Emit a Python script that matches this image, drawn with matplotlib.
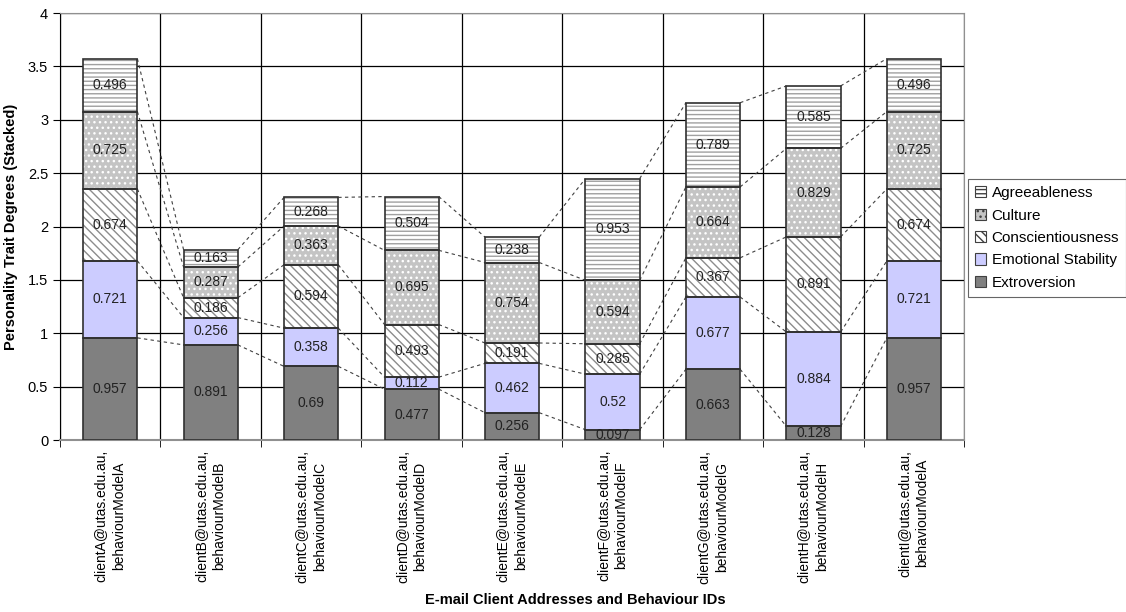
import matplotlib.pyplot as plt
import numpy as np

plt.rcParams['font.family'] = ['Liberation Sans', 'DejaVu Sans']
plt.rcParams['hatch.linewidth'] = 1.0

clients = ['clientA@utas.edu.au,\nbehaviourModelA', 'clientB@utas.edu.au,\nbehaviourModelB',
           'clientC@utas.edu.au,\nbehaviourModelC', 'clientD@utas.edu.au,\nbehaviourModelD',
           'clientE@utas.edu.au,\nbehaviourModelE', 'clientF@utas.edu.au,\nbehaviourModelF',
           'clientG@utas.edu.au,\nbehaviourModelG', 'clientH@utas.edu.au,\nbehaviourModelH',
           'clientI@utas.edu.au,\nbehaviourModelA']

extroversion = [0.957, 0.891, 0.69, 0.477, 0.256, 0.097, 0.663, 0.128, 0.957]
emotional = [0.721, 0.256, 0.358, 0.112, 0.462, 0.52, 0.677, 0.884, 0.721]
conscientious = [0.674, 0.186, 0.594, 0.493, 0.191, 0.285, 0.367, 0.891, 0.674]
culture = [0.725, 0.287, 0.363, 0.695, 0.754, 0.594, 0.664, 0.829, 0.725]
agreeable = [0.496, 0.163, 0.268, 0.504, 0.238, 0.953, 0.789, 0.585, 0.496]

series = [
    ('Extroversion', extroversion, '#808080', None, '#808080'),
    ('Emotional Stability', emotional, '#ccccff', None, '#ccccff'),
    ('Conscientiousness', conscientious, 'white', '\\\\\\\\', '#8c8c8c'),
    ('Culture', culture, '#c4c4c4', '...', 'white'),
    ('Agreeableness', agreeable, 'white', '----', '#a0a0a0'),
]

fig = plt.figure(figsize=(11.26, 6.12), dpi=100)
ax = fig.add_axes([0.0533, 0.281, 0.803, 0.6977])

x = np.arange(len(clients))
w = 0.54
bottom = np.zeros(len(clients))
handles = []
tops = []
for name, vals, face, hatch, hcol in series:
    vals = np.array(vals)
    # fill + hatch, then a separate outline so the hatch colour can differ from the edge
    ax.bar(x, vals, w, bottom=bottom, color=face, hatch=hatch, edgecolor=hcol,
           linewidth=0, zorder=3)
    ax.bar(x, vals, w, bottom=bottom, fill=False, edgecolor='#303030',
           linewidth=1.2, zorder=4)
    for xi, b, v in zip(x, bottom, vals):
        ax.text(xi, b + v / 2, f'{v:g}', ha='center', va='center', fontsize=10,
                color='#222222', zorder=6)
    handles.append(plt.Rectangle((0, 0), 1, 1, facecolor=face, hatch=hatch,
                                 edgecolor='#404040', linewidth=0.8, label=name))
    bottom = bottom + vals
    tops.append(bottom.copy())

# series lines linking segment tops of neighbouring bars
for level in tops:
    for i in range(len(clients) - 1):
        ax.plot([x[i] + w / 2, x[i + 1] - w / 2], [level[i], level[i + 1]],
                color='#404040', linewidth=0.8, linestyle=(0, (3, 3)), zorder=2)

ax.set_xlim(-0.5, len(clients) - 0.5)
ax.set_ylim(0, 4)
ax.set_yticks(np.arange(0, 4.01, 0.5))
ax.set_yticklabels(['0', '0.5', '1', '1.5', '2', '2.5', '3', '3.5', '4'], fontsize=10.5)
ax.set_xticks(x)
ax.set_xticklabels(clients, rotation=90, fontsize=10, va='top', ha='center',
                   multialignment='center', linespacing=1.3)
ax.tick_params(axis='x', length=0, pad=7)
ax.set_xticks(np.arange(-0.5, len(clients), 1), minor=True)
ax.tick_params(axis='x', which='minor', length=5, direction='out', color='black')
ax.tick_params(axis='y', length=5, direction='out', color='black')
ax.grid(axis='y', color='black', linewidth=0.9, zorder=1)
ax.grid(axis='x', which='minor', color='black', linewidth=0.9, zorder=1)
ax.set_axisbelow(True)

for side in ['top', 'right']:
    ax.spines[side].set_color('#909090')
ax.spines['left'].set_color('black')
ax.spines['bottom'].set_color('#909090')
ax.spines['bottom'].set_linewidth(1.5)

ax.set_ylabel('Personality Trait Degrees (Stacked)', fontsize=10.5, fontweight='bold')
ax.yaxis.set_label_coords(-0.047, 0.5)
fig.text(575 / 1126, 1 - 600 / 612, 'E-mail Client Addresses and Behaviour IDs',
         fontsize=10.5, fontweight='bold', ha='center', va='center')

leg = fig.legend(handles=handles[::-1], loc='center left',
                 bbox_to_anchor=(968 / 1126, 1 - 238 / 612), fontsize=11,
                 frameon=True, fancybox=False, edgecolor='#404040',
                 handlelength=0.75, handleheight=0.75, handletextpad=0.35,
                 borderpad=0.45, labelspacing=0.55, borderaxespad=0)
leg.get_frame().set_linewidth(0.8)

fig.savefig('out.png', dpi=100)
